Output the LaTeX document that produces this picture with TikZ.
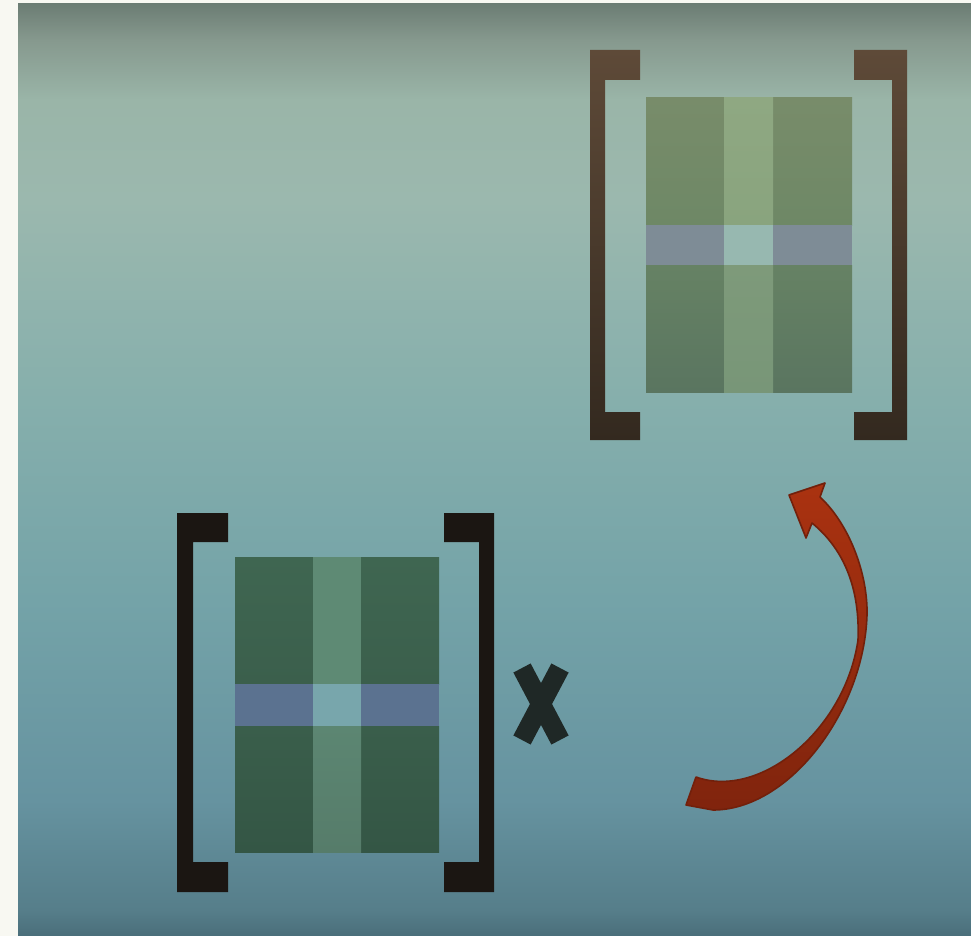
\documentclass[tikz,border=0pt]{standalone}
\usetikzlibrary{shadings}
\definecolor{cream}{HTML}{F8F8F2}
\definecolor{bgA}{HTML}{4A6E7A}
\definecolor{bgB}{HTML}{567E8A}
\definecolor{bgC}{HTML}{6693A0}
\definecolor{bgD}{HTML}{74A3A8}
\definecolor{bgE}{HTML}{86AFAC}
\definecolor{bgF}{HTML}{9BB8AE}
\definecolor{bgG}{HTML}{9AB5A8}
\definecolor{bgH}{HTML}{86998E}
\definecolor{bgI}{HTML}{6C7D74}
\pgfdeclareverticalshading{bgshade}{100bp}{color(0bp)=(bgA); color(25bp)=(bgA); color(26.4bp)=(bgB); color(32.3bp)=(bgC); color(43bp)=(bgD); color(53.75bp)=(bgE); color(64.5bp)=(bgF); color(69.85bp)=(bgG); color(73.05bp)=(bgH); color(75bp)=(bgI); color(100bp)=(bgI)}
\definecolor{brTopA}{HTML}{5E4A38}
\definecolor{brTopB}{HTML}{33291F}
\definecolor{brBot}{HTML}{1B1612}
\definecolor{xcol}{HTML}{1F2826}
\definecolor{arTop}{HTML}{AA3210}
\definecolor{arBot}{HTML}{80240D}
\definecolor{arLine}{HTML}{72200B}
\tikzset{
  cell/.style={draw=none},
  topbracket/.style={top color=brTopA, bottom color=brTopB, draw=none},
  botbracket/.style={fill=brBot, draw=none},
  xstroke/.style={draw=xcol, line width=19.5pt, line cap=butt},
}
\begin{document}
\begin{tikzpicture}[x=1pt,y=-1pt]
\useasboundingbox (0,0) rectangle (971,936);
% page and background panel
\fill[cream] (0,0) rectangle (971,936);
\shade[shading=bgshade] (18,4) rectangle (971,936);

% ---------- top (result) matrix ----------
\path[topbracket] (590,50) -- (640,50) -- (640,80) -- (605,80) -- (605,412) -- (640,412) -- (640,440) -- (590,440) -- cycle;
\path[topbracket] (907,50) -- (854,50) -- (854,80) -- (892,80) -- (892,412) -- (854,412) -- (854,440) -- (907,440) -- cycle;
% cells
\path[cell, top color={rgb,255:red,120;green,140;blue,106}, bottom color={rgb,255:red,110;green,136;blue,102}] (646,98) rectangle (724,225);
\path[cell, top color={rgb,255:red,120;green,140;blue,106}, bottom color={rgb,255:red,110;green,136;blue,102}] (773,98) rectangle (852,225);
\path[cell, top color={rgb,255:red,143;green,168;blue,130}, bottom color={rgb,255:red,137;green,164;blue,126}] (724,98) rectangle (773,225);
\path[cell, fill={rgb,255:red,126;green,140;blue,150}] (646,225) rectangle (724,265);
\path[cell, fill={rgb,255:red,126;green,140;blue,150}] (773,225) rectangle (852,265);
\path[cell, fill={rgb,255:red,151;green,184;blue,176}] (724,225) rectangle (773,265);
\path[cell, top color={rgb,255:red,102;green,130;blue,100}, bottom color={rgb,255:red,90;green,117;blue,96}] (646,265) rectangle (724,392);
\path[cell, top color={rgb,255:red,102;green,130;blue,100}, bottom color={rgb,255:red,90;green,117;blue,96}] (773,265) rectangle (852,392);
\path[cell, top color={rgb,255:red,126;green,154;blue,122}, bottom color={rgb,255:red,120;green,150;blue,120}] (724,265) rectangle (773,392);

% ---------- bottom (source) matrix ----------
\path[botbracket] (177,513) -- (228,513) -- (228,542) -- (193,542) -- (193,862) -- (228,862) -- (228,892) -- (177,892) -- cycle;
\path[botbracket] (494,513) -- (444,513) -- (444,542) -- (479,542) -- (479,862) -- (444,862) -- (444,892) -- (494,892) -- cycle;
\path[cell, top color={rgb,255:red,63;green,102;blue,81}, bottom color={rgb,255:red,59;green,95;blue,76}] (235,557) rectangle (313,684);
\path[cell, top color={rgb,255:red,63;green,102;blue,81}, bottom color={rgb,255:red,59;green,95;blue,76}] (361,557) rectangle (439,684);
\path[cell, fill={rgb,255:red,94;green,138;blue,116}] (313,557) rectangle (361,684);
\path[cell, fill={rgb,255:red,91;green,114;blue,144}] (235,684) rectangle (313,726);
\path[cell, fill={rgb,255:red,91;green,114;blue,144}] (361,684) rectangle (439,726);
\path[cell, fill={rgb,255:red,120;green,166;blue,172}] (313,684) rectangle (361,726);
\path[cell, top color={rgb,255:red,58;green,94;blue,75}, bottom color={rgb,255:red,52;green,86;blue,69}] (235,726) rectangle (313,852);
\path[cell, top color={rgb,255:red,58;green,94;blue,75}, bottom color={rgb,255:red,52;green,86;blue,69}] (361,726) rectangle (439,852);
\path[cell, top color={rgb,255:red,92;green,134;blue,114}, bottom color={rgb,255:red,86;green,124;blue,106}] (313,726) rectangle (361,852);

% ---------- multiplication mark ----------
\draw[xstroke] (522,668) -- (560,740);
\draw[xstroke] (560,668) -- (522,740);

% ---------- curved arrow ----------
\path[top color=arTop, bottom color=arBot, draw=arLine, line width=1.6pt, line join=round]
  (686,805) -- (696,777)
  .. controls (760,800) and (845,730) .. (858,640)
  .. controls (860,590) and (845,550) .. (812,523)
  -- (806,538) -- (789,495) -- (825,483) -- (820,497)
  .. controls (850,525) and (868,575) .. (867,615)
  .. controls (864,710) and (790,810) .. (713,810)
  -- cycle;
\end{tikzpicture}
\end{document}
